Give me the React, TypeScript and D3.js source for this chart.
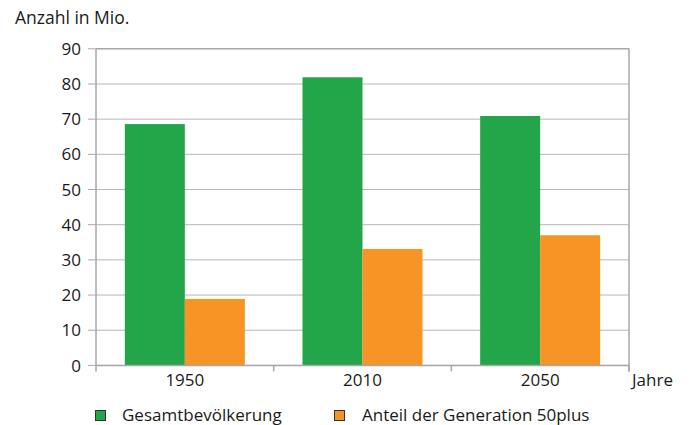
import React from "react";
import * as d3 from "d3";

const years = ["1950", "2010", "2050"];
const seriesNames = ["Gesamtbevölkerung", "Anteil der Generation 50plus"];
const gesamt = [68.6, 81.9, 70.9];
const generation50 = [18.9, 33.1, 37.0];
const yTicks = [0, 10, 20, 30, 40, 50, 60, 70, 80, 90];
const colors = ["#23a54a", "#f69425"];

const W = 691, H = 425;
const left = 96, right = 629, top = 48.8, bottom = 365.4;
const font = "'Open Sans', 'Noto Sans', sans-serif";
const fs = 17;
const txt = "#1a1a1a";

export default function App() {
  const x = d3.scaleBand<string>().domain(years).range([left, right]).padding(0);
  const y = d3.scaleLinear().domain([0, 90]).range([bottom, top]);
  const inner = d3.scaleBand<number>().domain([0, 1]).range([0, 120]).padding(0);
  const series = [gesamt, generation50];
  const bw = x.bandwidth();
  const grid = "#b5b6ba";
  const legendX = [95.5, 334.5];
  const legendTextX = [122, 362];
  return (
    <svg width={W} height={H} style={{ position: "absolute", left: 0, top: 0, background: "#fff" }}>
      <text x={15} y={24} fontFamily={font} fontSize={17.5} fill={txt}>Anzahl in Mio.</text>
      {yTicks.map((t) => (
        <g key={t}>
          <line x1={left} x2={right} y1={y(t)} y2={y(t)} stroke={t === 90 ? "#a6a7ab" : grid} strokeWidth={t === 90 ? 1.5 : 1} />
          <line x1={88} x2={left} y1={y(t)} y2={y(t)} stroke="#a6a7ab" strokeWidth={1} />
          <text x={81} y={y(t)} dy="0.36em" textAnchor="end" fontFamily={font} fontSize={fs} fill={txt}>{t}</text>
        </g>
      ))}
      {years.map((yr, i) =>
        series.map((s, j) => (
          <rect key={yr + j} x={(x(yr) as number) + (bw - 120) / 2 + (inner(j) as number)} width={inner.bandwidth()}
            y={y(s[i])} height={bottom - y(s[i])} fill={colors[j]} />
        ))
      )}
      <line x1={left} x2={left} y1={top} y2={bottom} stroke="#a6a7ab" strokeWidth={1.5} />
      <line x1={right} x2={right} y1={top} y2={bottom + 6} stroke="#a6a7ab" strokeWidth={1.5} />
      <line x1={left} x2={right} y1={bottom} y2={bottom} stroke="#a6a7ab" strokeWidth={1.5} />
      {[...years.map((yr) => x(yr) as number), right].map((px, i) => (
        <line key={i} x1={px} x2={px} y1={bottom} y2={bottom + 6} stroke="#a6a7ab" strokeWidth={1.5} />
      ))}
      {years.map((yr) => (
        <text key={yr} x={(x(yr) as number) + bw / 2} y={386} textAnchor="middle" fontFamily={font} fontSize={fs} fill={txt}>{yr}</text>
      ))}
      <text x={632} y={386} fontFamily={font} fontSize={fs} fill={txt}>Jahre</text>
      {seriesNames.map((n, j) => (
        <g key={n}>
          <rect x={legendX[j]} y={410.5} width={10} height={10} fill={colors[j]} stroke="#333" strokeWidth={1} />
          <text x={legendTextX[j]} y={421} fontFamily={font} fontSize={fs} fill={txt}>{n}</text>
        </g>
      ))}
    </svg>
  );
}
